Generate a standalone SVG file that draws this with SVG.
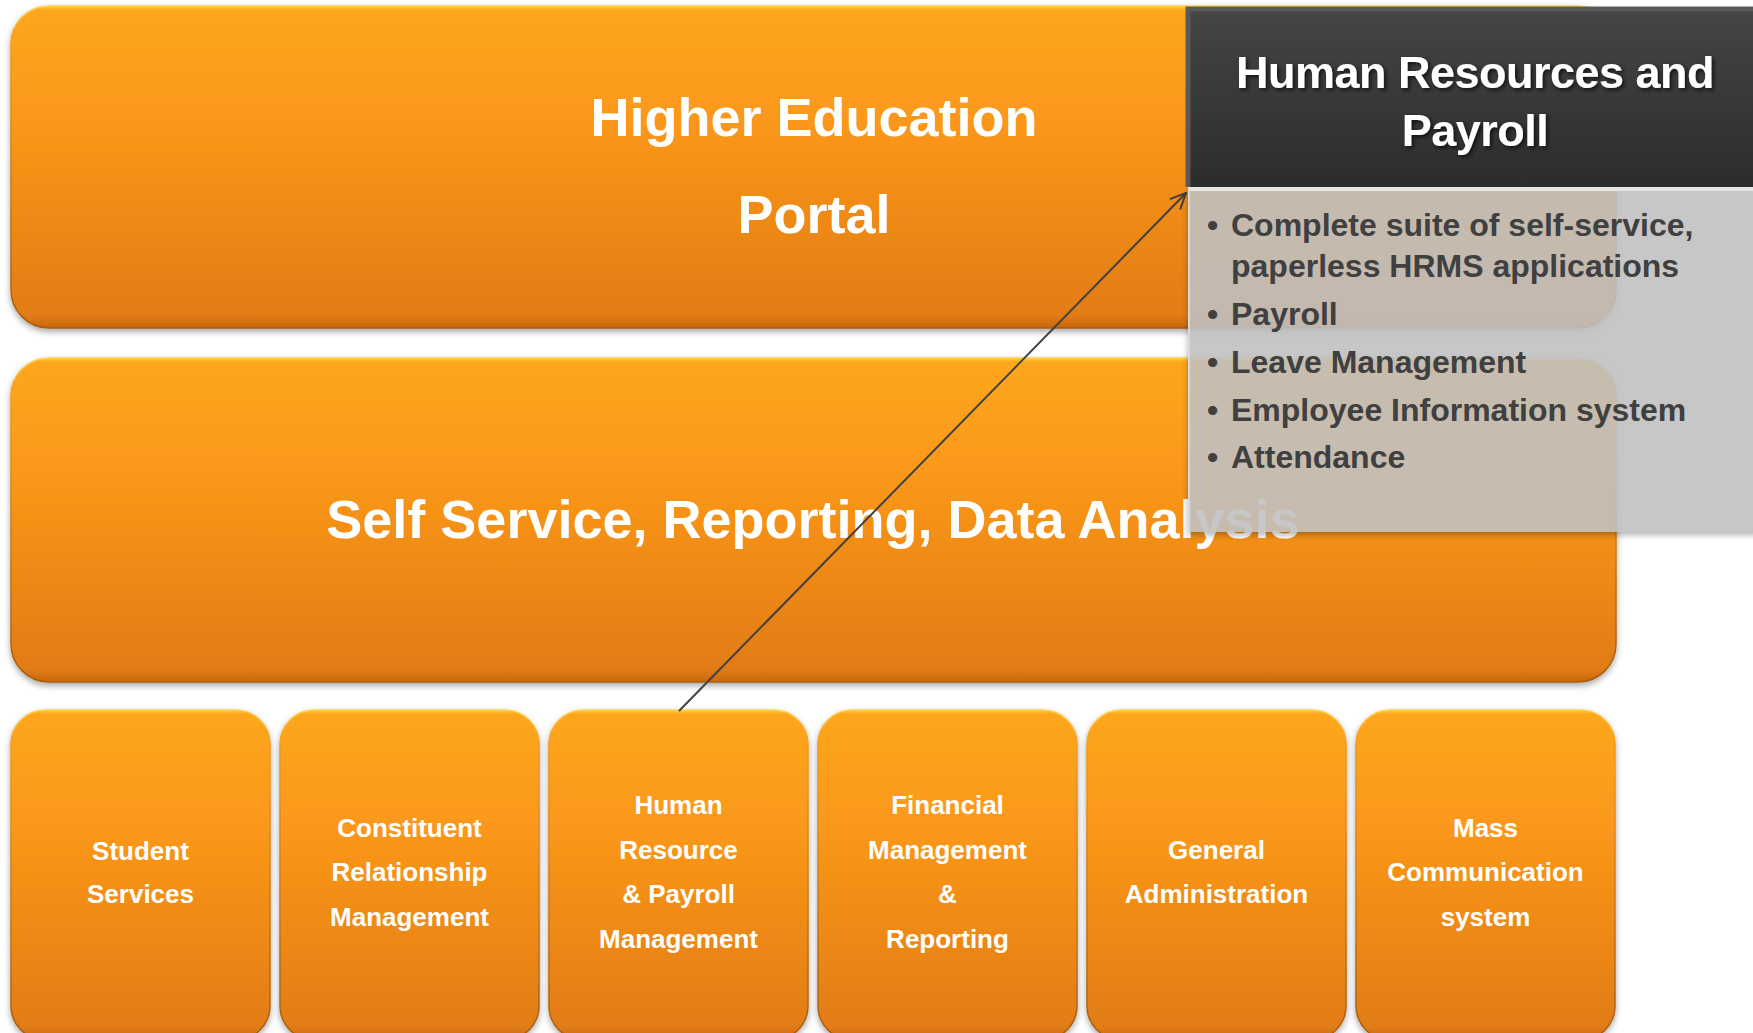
<svg xmlns="http://www.w3.org/2000/svg" width="1753" height="1033" viewBox="0 0 1753 1033">
<defs>
<linearGradient id="og" x1="0" y1="0" x2="0" y2="1">
<stop offset="0" stop-color="#FFD040"/>
<stop offset="0.012" stop-color="#FDA61E"/>
<stop offset="0.35" stop-color="#FB981A"/>
<stop offset="0.96" stop-color="#E27C14"/>
<stop offset="1" stop-color="#C8680F"/>
</linearGradient>
<linearGradient id="ogs" x1="0" y1="0" x2="0" y2="1">
<stop offset="0" stop-color="#FFD24A"/>
<stop offset="0.1" stop-color="#F39A1E"/>
<stop offset="1" stop-color="#A85A10"/>
</linearGradient>
<linearGradient id="dg" x1="0" y1="0" x2="0" y2="1">
<stop offset="0" stop-color="#454545"/>
<stop offset="1" stop-color="#2C2C2C"/>
</linearGradient>
<filter id="sh" x="-5%" y="-5%" width="110%" height="115%">
<feDropShadow dx="0" dy="3" stdDeviation="3" flood-color="#000" flood-opacity="0.35"/>
</filter>
<filter id="tsh" x="-10%" y="-30%" width="120%" height="160%">
<feDropShadow dx="2" dy="2" stdDeviation="2" flood-color="#000" flood-opacity="0.7"/>
</filter>
<marker id="arr" viewBox="0 0 16 16" refX="15" refY="8" markerWidth="18" markerHeight="18" markerUnits="userSpaceOnUse" orient="auto">
<polyline points="1,1.5 15,8 1,14.5" fill="none" stroke="#404040" stroke-width="1.8"/>
</marker>
<style>
.box{fill:url(#og);stroke:url(#ogs);stroke-width:1.5;filter:url(#sh);}
.big{font-family:"Liberation Sans",Arial,sans-serif;font-weight:bold;font-size:54px;fill:#fff;text-anchor:middle;}
.lbl{font-family:"Liberation Sans",Arial,sans-serif;font-weight:bold;font-size:26px;fill:#fff;text-anchor:middle;}
.hdr{font-family:"Liberation Sans",Arial,sans-serif;font-weight:bold;font-size:45px;fill:#fff;text-anchor:middle;letter-spacing:-0.5px;filter:url(#tsh);}
.bul{font-family:"Liberation Sans",Arial,sans-serif;font-weight:bold;font-size:32px;fill:#404040;}
.conn{stroke:#404040;stroke-width:2;fill:none;}
</style>
</defs>
<rect width="1753" height="1033" fill="#fff"/>

<g id="portal">
<rect class="box" x="11" y="6" width="1605" height="322" rx="38" ry="38"/>
<text class="big" x="814" y="136">Higher Education</text>
<text class="big" x="814" y="233">Portal</text>
</g>

<g id="self-service">
<rect class="box" x="11" y="358" width="1605" height="324" rx="38" ry="38"/>
<text class="big" x="813" y="538">Self Service, Reporting, Data Analysis</text>
</g>

<g id="student-services">
<rect class="box" x="11" y="710" width="259" height="330" rx="34" ry="34"/>
<text class="lbl" x="140.5" y="860">Student</text>
<text class="lbl" x="140.5" y="903">Services</text>
</g>
<g id="crm">
<rect class="box" x="280" y="710" width="259" height="330" rx="34" ry="34"/>
<text class="lbl" x="409.5" y="837">Constituent</text>
<text class="lbl" x="409.5" y="881">Relationship</text>
<text class="lbl" x="409.5" y="926">Management</text>
</g>
<g id="hr-payroll">
<rect class="box" x="549" y="710" width="259" height="330" rx="34" ry="34"/>
<text class="lbl" x="678.5" y="814">Human</text>
<text class="lbl" x="678.5" y="859">Resource</text>
<text class="lbl" x="678.5" y="903">&amp; Payroll</text>
<text class="lbl" x="678.5" y="948">Management</text>
</g>
<g id="financial">
<rect class="box" x="818" y="710" width="259" height="330" rx="34" ry="34"/>
<text class="lbl" x="947.5" y="814">Financial</text>
<text class="lbl" x="947.5" y="859">Management</text>
<text class="lbl" x="947.5" y="903">&amp;</text>
<text class="lbl" x="947.5" y="948">Reporting</text>
</g>
<g id="general-admin">
<rect class="box" x="1087" y="710" width="259" height="330" rx="34" ry="34"/>
<text class="lbl" x="1216.5" y="859">General</text>
<text class="lbl" x="1216.5" y="903">Administration</text>
</g>
<g id="mass-comm">
<rect class="box" x="1356" y="710" width="259" height="330" rx="34" ry="34"/>
<text class="lbl" x="1485.5" y="837">Mass</text>
<text class="lbl" x="1485.5" y="881">Communication</text>
<text class="lbl" x="1485.5" y="926">system</text>
</g>

<g id="connectors">
<line class="conn" x1="679" y1="711" x2="1186" y2="193" marker-end="url(#arr)"/>
</g>

<g id="hr-callout">
<rect x="1188" y="187" width="570" height="345" fill="#C4C4C4" fill-opacity="0.85" filter="url(#sh)"/>
<line x1="1188" y1="189" x2="1753" y2="189" stroke="#E6E6E6" stroke-width="4"/>
<line x1="1189" y1="189" x2="1189" y2="532" stroke="#D8D8D8" stroke-width="2"/>
<rect x="1188" y="9" width="570" height="178" fill="url(#dg)"/>
<polyline points="1188,187 1188,9 1753,9" fill="none" stroke="#5A5A5A" stroke-width="5"/>
<text class="hdr" x="1475" y="88">Human Resources and</text>
<text class="hdr" x="1475" y="146">Payroll</text>
<g class="bul">
<text x="1207" y="236">•</text><text x="1231" y="236">Complete suite of self-service,</text>
<text x="1231" y="277">paperless HRMS applications</text>
<text x="1207" y="325">•</text><text x="1231" y="325">Payroll</text>
<text x="1207" y="373">•</text><text x="1231" y="373">Leave Management</text>
<text x="1207" y="421">•</text><text x="1231" y="421">Employee Information system</text>
<text x="1207" y="468">•</text><text x="1231" y="468">Attendance</text>
</g>
</g>
</svg>
